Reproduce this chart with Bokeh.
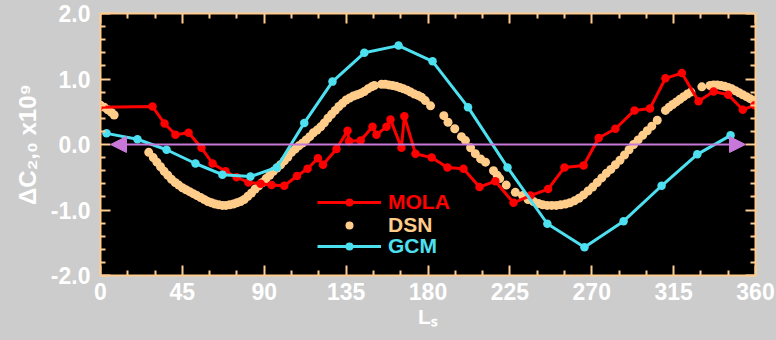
from bokeh.plotting import figure
from bokeh.models import (Range1d, LinearAxis, FixedTicker, Legend, LegendItem,
                          Arrow, NormalHead)
from bokeh.embed import file_html
from bokeh.resources import INLINE

# ---------------- data ----------------
mola_ls = [-1, 28.6, 35.2, 41.2, 48.4, 55.5, 61.6, 68.7, 74.8, 81.3, 88, 94, 101,
           108, 113.8, 119.5, 122.3, 129.7, 135.8, 136.6, 143, 149.5, 151.7, 157.2,
           159.4, 165.4, 167, 173.1, 182, 190.7, 199.5, 208.3, 217, 227, 236.3, 246,
           255, 265.5, 273.8, 283, 293.5, 302, 310.5, 319.5, 328.7, 337, 345, 353, 359.5]
mola_val = [0.57, 0.58, 0.32, 0.15, 0.18, -0.05, -0.29, -0.41, -0.50, -0.58, -0.60, -0.62, -0.63,
            -0.48, -0.37, -0.21, -0.31, -0.07, 0.21, 0.05, 0.06, 0.27, 0.15, 0.27,
            0.38, -0.05, 0.43, -0.14, -0.20, -0.35, -0.37, -0.65, -0.56, -0.89, -0.78, -0.68,
            -0.35, -0.32, 0.10, 0.24, 0.52, 0.55, 1.01, 1.09, 0.66, 0.81, 0.76, 0.53, 0.60]

dsn_ls = [0, 2, 4, 6, 7.5,
          26.5, 29, 31, 33, 35, 37, 39, 41, 43, 45, 47, 49, 51, 53, 55, 57, 59, 61, 63, 65,
          67, 69, 71, 73, 75, 77, 79, 81, 83, 85, 87, 89, 91, 93, 95, 97, 99, 101, 103, 105,
          107, 109, 111, 113, 115, 117, 119, 121, 123, 125, 127, 129, 131, 133, 135, 137,
          139, 141, 143, 145, 147, 149, 150.5,
          154.5, 156.5, 158.5, 160.5, 162.5, 164.5, 166.5, 168.5, 170.5, 172.5, 174.5, 176.5,
          178.5, 181.4, 188.7, 191, 194.7, 198.4, 200.6, 203.4, 206, 208.9, 211.6, 216, 218,
          219.4, 223, 228, 232, 235, 238, 240.7, 243, 245.5, 248, 250.5, 253, 255.5, 258,
          260.5, 263, 265.5, 268, 270.5, 273, 275.5, 278, 280.5, 283, 285.5, 288, 290.5,
          293, 295.5, 298, 300.5, 303, 306,
          310.5, 312.5, 314.5, 316.5, 318.5, 320.5, 322.5, 324.5,
          330.5, 335, 337, 339, 341, 343, 345, 347, 349, 351, 353, 355, 357, 359]
dsn_val = [0.60, 0.57, 0.53, 0.49, 0.45,
           -0.12, -0.20, -0.27, -0.34, -0.41, -0.47, -0.53, -0.58, -0.62, -0.66, -0.69, -0.72,
           -0.75, -0.78, -0.81, -0.84, -0.87, -0.89, -0.91, -0.92,
           -0.93, -0.93, -0.92, -0.91, -0.89, -0.87, -0.84, -0.79, -0.74, -0.68, -0.63, -0.58,
           -0.52, -0.47, -0.41, -0.36, -0.31, -0.25, -0.19, -0.12,
           -0.07, -0.02, 0.02, 0.07, 0.12, 0.18, 0.22, 0.27, 0.33, 0.40, 0.46, 0.52, 0.58,
           0.63, 0.68, 0.71, 0.74, 0.76, 0.78, 0.81, 0.85, 0.88, 0.90,
           0.92, 0.92, 0.91, 0.90, 0.89, 0.87, 0.85, 0.83, 0.80, 0.77, 0.75, 0.72,
           0.67, 0.59, 0.44, 0.34, 0.24, 0.12, 0.06, -0.05, -0.14, -0.22, -0.27, -0.40, -0.47,
           -0.52, -0.62, -0.73, -0.78, -0.84, -0.87, -0.90, -0.92, -0.93, -0.93, -0.93, -0.92,
           -0.91, -0.89, -0.86, -0.82, -0.77, -0.71, -0.65, -0.58, -0.51, -0.44, -0.38, -0.31,
           -0.24, -0.16, -0.08, 0.0, 0.07, 0.14, 0.21, 0.28, 0.37,
           0.52, 0.57, 0.61, 0.65, 0.69, 0.73, 0.77, 0.80,
           0.88, 0.90, 0.91, 0.91, 0.90, 0.89, 0.87, 0.85, 0.82, 0.79, 0.76, 0.73, 0.70, 0.67]

gcm_ls = [3.3, 20.3, 36.3, 52.2, 67, 82.4, 96.9, 112, 127.5, 145, 163.8, 182.5, 202,
          223.7, 245.6, 266, 287.5, 308.4, 328, 346.3]
gcm_val = [0.17, 0.08, -0.08, -0.29, -0.46, -0.49, -0.35, 0.33, 0.96, 1.40, 1.51, 1.27, 0.57,
           -0.35, -1.21, -1.57, -1.17, -0.63, -0.15, 0.14]

arrow_ls = [5.5, 354.5]
arrow_val = [0.0, 0.0]

x_ticks = [0, 45, 90, 135, 180, 225, 270, 315, 360]
x_minor = [15, 30, 60, 75, 105, 120, 150, 165, 195, 210, 240, 255, 285, 300, 330, 345]
y_ticks = [-2, -1, 0, 1, 2]
y_tick_labels = {-2: "-2.0", -1: "-1.0", 0: "0.0", 1: "1.0", 2: "2.0"}
y_minor = [-1.8, -1.6, -1.4, -1.2, -0.8, -0.6, -0.4, -0.2, 0.2, 0.4, 0.6, 0.8,
           1.2, 1.4, 1.6, 1.8]

x_title = "L\u209b"
y_title = "\u0394C\u2082,\u2080 x10\u2079"

# ---------------- style ----------------
BG = "#cccccc"
AX = "#ffcc8f"
RED = "#ff0000"
ORANGE = "#ffcc8a"
CYAN = "#4de0f0"
PURPLE = "#c878d8"
FONT = "Liberation Sans"

p = figure(width=776, height=340, x_range=Range1d(0, 360), y_range=Range1d(-2, 2),
           output_backend="svg", toolbar_location=None)
p.background_fill_color = "black"
p.border_fill_color = BG
p.outline_line_color = None
p.min_border_left = 100
p.min_border_right = 21
p.min_border_top = 13
p.min_border_bottom = 65
p.grid.visible = False


def style_axis(ax, ticks, minor, show_labels):
    ax.ticker = FixedTicker(ticks=ticks, minor_ticks=minor)
    ax.axis_line_color = AX
    ax.axis_line_width = 2
    ax.major_tick_line_color = AX
    ax.major_tick_line_width = 2
    ax.minor_tick_line_color = AX
    ax.minor_tick_line_width = 2
    ax.major_tick_in = 10
    ax.major_tick_out = 0
    ax.minor_tick_in = 5
    ax.minor_tick_out = 0
    if show_labels:
        ax.major_label_text_font = FONT
        ax.major_label_text_font_style = "bold"
        ax.major_label_text_font_size = "23px"
        ax.major_label_text_color = "white"
        ax.axis_label_text_font = FONT
        ax.axis_label_text_font_style = "bold"
        ax.axis_label_text_color = "white"
    else:
        ax.major_label_text_font_size = "0px"
        ax.major_label_standoff = 0
        ax.major_label_text_color = None


xb = p.xaxis[0]
style_axis(xb, x_ticks, x_minor, True)
xb.major_label_standoff = 7
xb.axis_label = x_title
xb.axis_label_text_font_size = "21px"
xb.axis_label_standoff = 2

yl = p.yaxis[0]
style_axis(yl, y_ticks, y_minor, True)
yl.major_label_overrides = y_tick_labels
yl.major_label_standoff = 10
yl.axis_label = y_title
yl.axis_label_text_font_size = "24px"
yl.axis_label_standoff = 7

xt = LinearAxis()
style_axis(xt, x_ticks, x_minor, False)
p.add_layout(xt, "above")
yr = LinearAxis()
style_axis(yr, y_ticks, y_minor, False)
p.add_layout(yr, "right")

# ---------------- glyphs ----------------
dsn_r = p.scatter(dsn_ls, dsn_val, size=9, color=ORANGE, line_color=None)
mola_l = p.line(mola_ls, mola_val, line_color=RED, line_width=3)
mola_c = p.scatter(mola_ls, mola_val, size=8.5, color=RED, line_color=None)
gcm_l = p.line(gcm_ls, gcm_val, line_color=CYAN, line_width=3)
gcm_c = p.scatter(gcm_ls, gcm_val, size=8.5, color=CYAN, line_color=None)

p.add_layout(Arrow(start=NormalHead(size=16, fill_color=PURPLE, line_color=PURPLE),
                   end=NormalHead(size=16, fill_color=PURPLE, line_color=PURPLE),
                   x_start=arrow_ls[0], y_start=arrow_val[0],
                   x_end=arrow_ls[1], y_end=arrow_val[1],
                   line_color=PURPLE, line_width=2))


# ---------------- legends ----------------
def add_legend(label, renderers, color, y):
    lg = Legend(items=[LegendItem(label=label, renderers=renderers)],
                location=(217, y), orientation="vertical")
    lg.background_fill_alpha = 0
    lg.border_line_color = None
    lg.padding = 0
    lg.margin = 0
    lg.spacing = 0
    lg.glyph_width = 64
    lg.glyph_height = 20
    lg.label_height = 20
    lg.label_standoff = 7
    lg.label_text_font = FONT
    lg.label_text_font_style = "bold"
    lg.label_text_font_size = "21px"
    lg.label_text_color = color
    lg.label_text_baseline = "middle"
    p.add_layout(lg)


add_legend("MOLA", [mola_l, mola_c], RED, 61)
add_legend("DSN", [dsn_r], ORANGE, 38)
add_legend("GCM", [gcm_l, gcm_c], CYAN, 17)

html = file_html(p, INLINE)
html = html.replace("</head>", "<style>body{background-color:#cccccc;}</style></head>", 1)
open("out.html", "w").write(html)
